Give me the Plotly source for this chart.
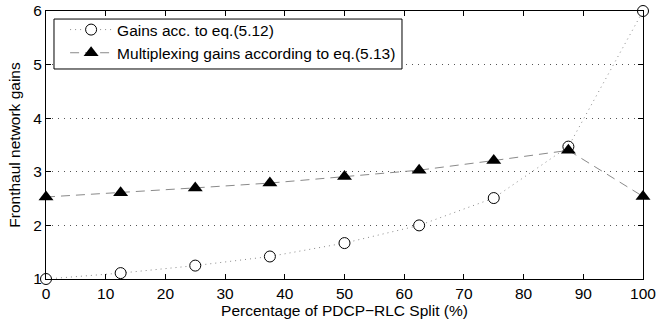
import plotly.graph_objects as go

# Percentage of PDCP-RLC split
split_pct = [0, 12.5, 25, 37.5, 50, 62.5, 75, 87.5, 100]
# Gains according to eq.(5.12)
gains_512 = [1.0, 1.11, 1.25, 1.42, 1.67, 2.0, 2.51, 3.47, 6.0]
# Multiplexing gains according to eq.(5.13)
mux_gains_513 = [2.53, 2.61, 2.70, 2.79, 2.91, 3.03, 3.21, 3.40, 2.54]

x_ticks = [0, 10, 20, 30, 40, 50, 60, 70, 80, 90, 100]
y_ticks = [1, 2, 3, 4, 5, 6]

FONT = "Liberation Sans, Arial, Helvetica, sans-serif"

fig = go.Figure()

fig.add_trace(go.Scatter(
    x=split_pct, y=gains_512, mode="lines+markers",
    name="Gains acc. to eq.(5.12)",
    line=dict(color="#8a8a8a", width=1, dash="1px,4px"),
    marker=dict(symbol="circle", size=11, color="white",
                line=dict(color="black", width=1)),
    cliponaxis=False,
))

fig.add_trace(go.Scatter(
    x=split_pct, y=mux_gains_513, mode="lines+markers",
    name="Multiplexing gains according to eq.(5.13)",
    line=dict(color="#8a8a8a", width=1, dash="9px,6px"),
    marker=dict(symbol="triangle-up", size=13, color="black",
                line=dict(color="black", width=0)),
    cliponaxis=False,
))

# Legend frame: white box drawn above the data, entries sit on top of it
fig.add_shape(
    type="rect", xref="paper", yref="paper",
    x0=0.0134, x1=0.5963, y0=0.7836, y1=0.970,
    line=dict(color="black", width=1), fillcolor="white", layer="above",
)

fig.update_layout(
    width=658, height=324,
    margin=dict(l=46, r=15, t=11, b=45),
    paper_bgcolor="white", plot_bgcolor="white",
    font=dict(family=FONT, size=15.5, color="black"),
    showlegend=True,
    legend=dict(
        x=0.032, y=0.9925, xanchor="left", yanchor="top",
        bgcolor="rgba(0,0,0,0)", borderwidth=0,
        font=dict(family=FONT, size=15.5, color="black"),
        tracegroupgap=0, itemwidth=42,
    ),
    xaxis=dict(
        range=[0, 100], tickmode="array", tickvals=x_ticks,
        ticks="inside", ticklen=5, tickcolor="black",
        showline=True, linecolor="black", linewidth=1, mirror="ticks",
        showgrid=False, zeroline=False, automargin=False,
        title=dict(text="Percentage of PDCP\u2212RLC Split (%)", standoff=2,
                   font=dict(size=15.5)),
        tickfont=dict(size=15.5),
    ),
    yaxis=dict(
        range=[1, 6], tickmode="array", tickvals=y_ticks,
        ticks="inside", ticklen=5, tickcolor="black",
        showline=True, linecolor="black", linewidth=1, mirror="ticks",
        showgrid=True, gridcolor="#555555", gridwidth=1, griddash="1px,5px",
        zeroline=False, automargin=False,
        title=dict(text="Fronthaul network gains", standoff=8,
                   font=dict(size=15.5)),
        tickfont=dict(size=15.5),
    ),
)

fig.write_html("out.html")
